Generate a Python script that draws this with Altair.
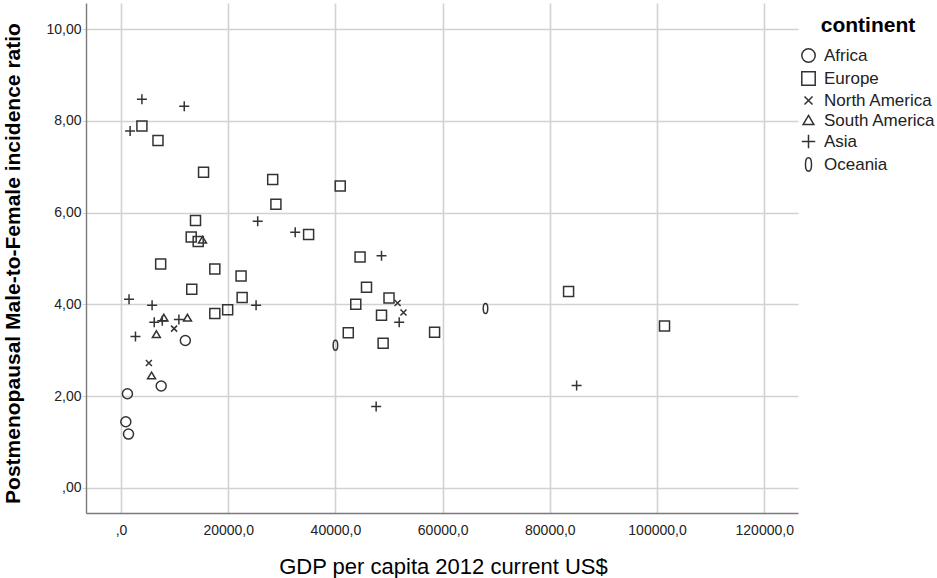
import altair as alt
import pandas as pd

# Continents in legend order, with the symbol drawn for each
continents = ["Africa", "Europe", "North America", "South America", "Asia", "Oceania"]
shapes = [
    "circle",
    "square",
    "M-0.6,-0.6L0.6,0.6M-0.6,0.6L0.6,-0.6",          # x-cross
    "M0,-0.75L0.8,0.6L-0.8,0.6Z",                     # open triangle
    "M-1,0H1M0,-1V1",                                 # plus
    "M0,-1C0.6,-1 0.6,1 0,1C-0.6,1 -0.6,-1 0,-1Z",    # narrow ellipse
]

# GDP per capita (current US$, 2012) and postmenopausal M:F incidence ratio
africa_gdp = [12000, 7500, 1200, 900, 1400]
africa_ratio = [3.21, 2.22, 2.05, 1.44, 1.17]

europe_gdp = [3900, 6900, 15400, 28300, 28900, 13900, 13100, 14400, 7400, 17500,
              22400, 13200, 22600, 17500, 19900, 40900, 35000, 44600, 45800, 50000,
              43800, 48600, 42400, 58500, 48900, 83500, 101400]
europe_ratio = [7.89, 7.57, 6.88, 6.72, 6.18, 5.83, 5.47, 5.37, 4.88, 4.77,
                4.62, 4.33, 4.15, 3.80, 3.88, 6.58, 5.52, 5.03, 4.37, 4.14,
                4.00, 3.76, 3.38, 3.39, 3.15, 4.28, 3.53]

north_america_gdp = [9900, 5200, 51600, 52700]
north_america_ratio = [3.47, 2.72, 4.03, 3.82]

south_america_gdp = [15200, 8000, 12400, 6600, 5700]
south_america_ratio = [5.40, 3.70, 3.70, 3.34, 2.44]

asia_gdp = [3900, 11800, 1700, 25500, 32500, 1500, 5800, 25200, 6200, 7700,
            10800, 2700, 48600, 51900, 47600, 85000]
asia_ratio = [8.47, 8.32, 7.78, 5.81, 5.57, 4.11, 3.98, 3.98, 3.61, 3.64,
              3.67, 3.30, 5.06, 3.61, 1.77, 2.23]

oceania_gdp = [40000, 68000]
oceania_ratio = [3.11, 3.91]

series = {
    "Africa": (africa_gdp, africa_ratio),
    "Europe": (europe_gdp, europe_ratio),
    "North America": (north_america_gdp, north_america_ratio),
    "South America": (south_america_gdp, south_america_ratio),
    "Asia": (asia_gdp, asia_ratio),
    "Oceania": (oceania_gdp, oceania_ratio),
}

rows = []
for name, (gdp, ratio) in series.items():
    for g, r in zip(gdp, ratio):
        rows.append({"gdp": g, "ratio": r, "continent": name})
df = pd.DataFrame(rows)

FONT = "Liberation Sans"
GRID = "#d2d2d2"

chart = (
    alt.Chart(df)
    .mark_point(filled=False, color="#333333", opacity=1, strokeWidth=1.5, size=100)
    .encode(
        x=alt.X(
            "gdp:Q",
            title="GDP per capita 2012 current US$",
            scale=alt.Scale(domain=[-6530, 126300], nice=False, zero=False),
            axis=alt.Axis(
                values=[0, 20000, 40000, 60000, 80000, 100000, 120000],
                labelExpr="datum.value == 0 ? ',0' : format(datum.value, 'd') + ',0'",
                ticks=False,
                labelPadding=10,
                titleX=357,
                titleY=53,
                titleBaseline="middle",
                titleFontWeight="normal",
                titleFontSize=22,
            ),
        ),
        y=alt.Y(
            "ratio:Q",
            title="Postmenopausal Male-to-Female incidence ratio",
            scale=alt.Scale(domain=[-0.55, 10.57], nice=False, zero=False),
            axis=alt.Axis(
                values=[0, 2, 4, 6, 8, 10],
                labelExpr="datum.value == 0 ? ',00' : format(datum.value, 'd') + ',00'",
                ticks=True,
                tickSize=4,
                tickColor=GRID,
                labelPadding=1,
                titleX=-73,
                titleY=260,
                titleAngle=-90,
                titleAlign="center",
                titleBaseline="middle",
                titleFontWeight="bold",
                titleFontSize=21,
            ),
        ),
        shape=alt.Shape(
            "continent:N",
            scale=alt.Scale(domain=continents, range=shapes),
            legend=alt.Legend(
                title="continent",
                orient="none",
                legendX=714,
                legendY=12,
                titleAnchor="middle",
                titleFontSize=21,
                titleFontWeight="bold",
                titleColor="#000000",
                titlePadding=11,
                labelFontSize=17,
                labelColor="#222222",
                labelOffset=7,
                symbolSize=180,
                symbolStrokeWidth=1.5,
                symbolStrokeColor="#333333",
                rowPadding=2,
            ),
        ),
    )
    .properties(
        width=712,
        height=510,
        autosize=alt.AutoSizeParams(type="none"),
        padding={"left": 86, "top": 3, "right": 139, "bottom": 65},
    )
    .configure(font=FONT)
    .configure_view(stroke=None)
    .configure_axis(
        grid=True,
        gridColor=GRID,
        gridWidth=1.6,
        domainColor="#7a7a7a",
        domainWidth=1.4,
        labelFont=FONT,
        labelFontSize=14,
        labelColor="#222222",
        titleFont=FONT,
        titleColor="#000000",
    )
    .configure_legend(labelFont=FONT, titleFont=FONT)
)

chart.save("out.html", embed_options={"renderer": "svg", "actions": False})
